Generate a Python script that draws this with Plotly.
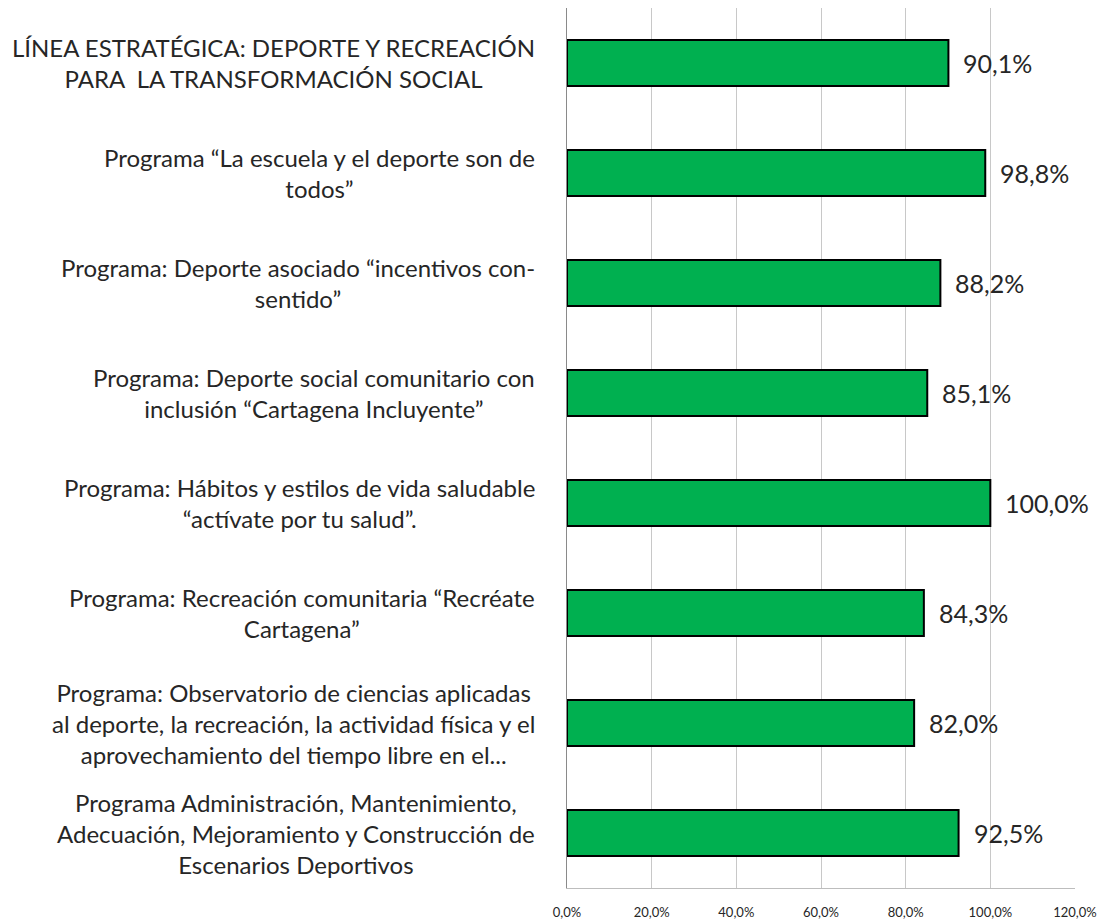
import plotly.graph_objects as go

categories = [
    "LÍNEA ESTRATÉGICA: DEPORTE Y RECREACIÓN<br>PARA  LA TRANSFORMACIÓN SOCIAL",
    "Programa “La escuela y el deporte son de<br>todos”",
    "Programa: Deporte asociado “incentivos con-<br>sentido”",
    "Programa: Deporte social comunitario con<br>inclusión “Cartagena Incluyente”",
    "Programa: Hábitos y estilos de vida saludable<br>“actívate por tu salud”.",
    "Programa: Recreación comunitaria “Recréate<br>Cartagena”",
    "Programa: Observatorio de ciencias aplicadas<br>al deporte, la recreación, la actividad física y el<br>aprovechamiento del tiempo libre en el...",
    "Programa Administración, Mantenimiento,<br>Adecuación, Mejoramiento y Construcción de<br>Escenarios Deportivos",
]
values = [90.1, 98.8, 88.2, 85.1, 100.0, 84.3, 82.0, 92.5]
tick_values = [0, 20, 40, 60, 80, 100, 120]


def pct(v):
    return f"{v:.1f}%".replace(".", ",")


ids = list(range(len(categories)))
FONT = "Lato"

fig = go.Figure(go.Bar(
    x=values, y=ids, orientation="h",
    marker=dict(color="#00B050", line=dict(color="#000000", width=2)),
    width=0.42,
    hoverinfo="x",
))

for i, c in enumerate(categories):
    fig.add_annotation(
        x=0, xref="paper", y=i, yref="y", text=c, showarrow=False,
        xanchor="right", align="center", xshift=-30,
        font=dict(size=24, color="#262626", family=FONT),
    )

for i, v in enumerate(values):
    fig.add_annotation(
        x=v, xref="x", y=i, yref="y", text=pct(v), showarrow=False,
        xanchor="left", xshift=13,
        font=dict(size=25, color="#262626", family=FONT),
    )

fig.update_layout(
    width=1105, height=922,
    margin=dict(l=559, r=38, t=0, b=42),
    plot_bgcolor="white", paper_bgcolor="white",
    showlegend=False,
    font=dict(family=FONT, color="#262626"),
)
fig.update_xaxes(
    range=[0, 120], tickvals=tick_values, ticktext=[pct(t) for t in tick_values],
    showgrid=True, gridcolor="#C8C8C8", gridwidth=1,
    showline=True, linecolor="#BDBDBD", linewidth=1,
    zeroline=False, ticks="outside", ticklen=12, tickcolor="rgba(0,0,0,0)",
    tickfont=dict(size=13, color="#262626"),
)
fig.update_yaxes(
    range=[7.5, -0.5], tickvals=[], showticklabels=False,
    showline=True, linecolor="#8A8A8A", linewidth=1,
    showgrid=False, zeroline=False,
)

fig.write_html("out.html")
